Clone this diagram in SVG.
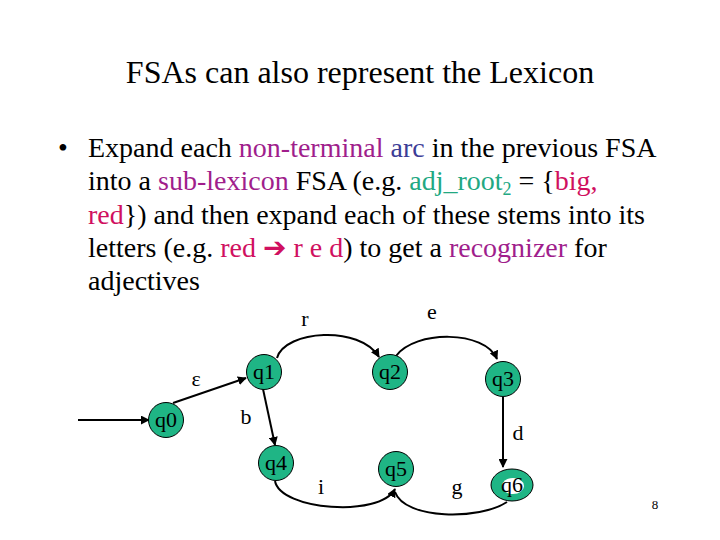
<svg xmlns="http://www.w3.org/2000/svg" width="720" height="540" viewBox="0 0 720 540" font-family="'Liberation Serif', 'DejaVu Serif', serif">
<defs>
<style>
text{font-family:'Liberation Serif','DejaVu Serif',serif;fill:#000}
.title{font-size:32px}
.body{font-size:28px}
.lbl{font-size:22px}
.st{fill:#1fb585;stroke:#000;stroke-width:1}
.in{fill:#fff;stroke:none}
.ed{fill:none;stroke:#000;stroke-width:2}
.pu{fill:#a01e8c}
.bl{fill:#3c3c96}
.tl{fill:#22a882}
.cr{fill:#d01060}
.arw{font-family:'DejaVu Sans',sans-serif;font-size:28px}
</style>
<marker id="ah" viewBox="0 0 10 10" refX="9" refY="5" markerWidth="4.5" markerHeight="4.5" orient="auto" markerUnits="strokeWidth">
<path d="M0,0 L10,5 L0,10 z" fill="#000"/>
</marker>
</defs>
<rect width="720" height="540" fill="#fff"/>
<text class="title" x="360" y="83" text-anchor="middle">FSAs can also represent the Lexicon</text>
<g id="bullet">
<text class="body" x="58" y="157">•</text>
<text class="body" x="88" y="157">Expand each <tspan class="pu">non-terminal</tspan> <tspan class="bl">arc</tspan> in the previous FSA</text>
<text class="body" x="88" y="190">into a <tspan class="pu">sub-lexicon</tspan> FSA (e.g. <tspan class="tl">adj_root</tspan><tspan class="tl" font-size="18" dy="5">2</tspan><tspan dy="-5"> = {</tspan><tspan class="cr">big,</tspan></text>
<text class="body" x="88" y="224"><tspan class="cr">red</tspan>}) and then expand each of these stems into its</text>
<text class="body" x="88" y="257">letters (e.g. <tspan class="cr">red <tspan class="arw">➔</tspan> r e d</tspan>) to get a <tspan class="pu">recognizer</tspan> for</text>
<text class="body" x="88" y="290">adjectives</text>
</g>
<g id="connectors">
<path class="ed" d="M78,420 L149,420" marker-end="url(#ah)"/>
<path class="ed" d="M173,403 L246,378" marker-end="url(#ah)"/>
<path class="ed" d="M263,389 L275,445" marker-end="url(#ah)"/>
<path class="ed" d="M277,358 C285,330 360,325 379,357" marker-end="url(#ah)"/>
<path class="ed" d="M396,356 C415,330 485,330 497,359" marker-end="url(#ah)"/>
<path class="ed" d="M503,397 L503,467" marker-end="url(#ah)"/>
<path class="ed" d="M275,481 C280,510 380,518 395,489" marker-end="url(#ah)"/>
<path class="ed" d="M395,492 C405,520 480,520 507,502"/>
</g>
<g id="q0"><circle class="st" cx="166" cy="420" r="17.5"/><text class="lbl" x="166" y="427" text-anchor="middle">q0</text></g>
<g id="q1"><circle class="st" cx="264" cy="372" r="17.5"/><text class="lbl" x="264" y="379" text-anchor="middle">q1</text></g>
<g id="q2"><circle class="st" cx="390" cy="372" r="17.5"/><text class="lbl" x="390" y="379" text-anchor="middle">q2</text></g>
<g id="q3"><circle class="st" cx="503" cy="379" r="17.5"/><text class="lbl" x="503" y="386" text-anchor="middle">q3</text></g>
<g id="q4"><circle class="st" cx="276" cy="463" r="17.5"/><text class="lbl" x="276" y="470" text-anchor="middle">q4</text></g>
<g id="q5"><circle class="st" cx="396" cy="469" r="17.5"/><text class="lbl" x="396" y="476" text-anchor="middle">q5</text></g>
<g id="q6"><ellipse class="st" cx="512" cy="485" rx="21" ry="16"/><ellipse class="in" cx="513" cy="486" rx="11" ry="8"/><text class="lbl" x="512" y="492" text-anchor="middle">q6</text></g>
<g id="labels">
<text class="lbl" x="196" y="386" text-anchor="middle">ε</text>
<text class="lbl" x="246" y="424" text-anchor="middle">b</text>
<text class="lbl" x="305" y="326" text-anchor="middle">r</text>
<text class="lbl" x="432" y="319" text-anchor="middle">e</text>
<text class="lbl" x="518" y="440" text-anchor="middle">d</text>
<text class="lbl" x="321" y="494" text-anchor="middle">i</text>
<text class="lbl" x="457" y="494" text-anchor="middle">g</text>
<text x="655" y="509" font-size="13" text-anchor="middle">8</text>
</g>
</svg>
